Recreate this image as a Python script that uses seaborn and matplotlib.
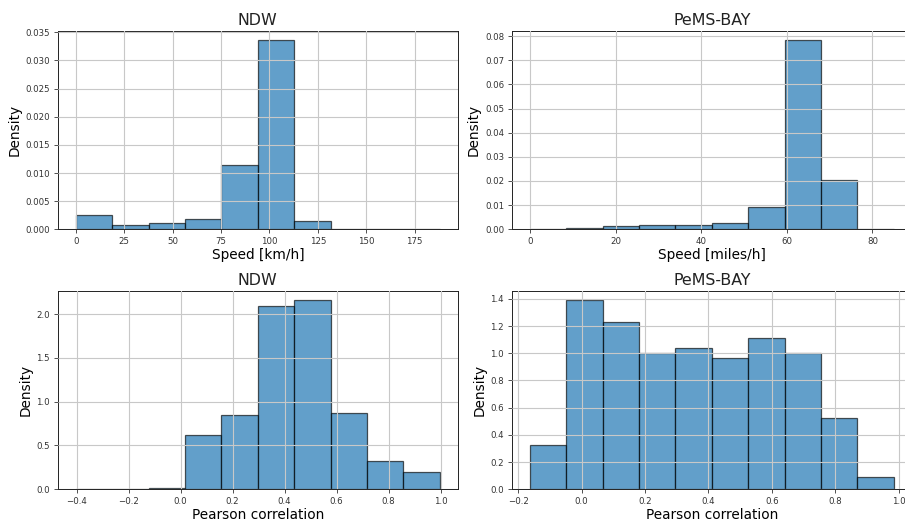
import numpy as np
import pandas as pd
import matplotlib
matplotlib.use("Agg")
import matplotlib.pyplot as plt
import seaborn as sns

# ---- data (bin edges and densities) ----
ndw_speed_edges = np.linspace(0, 188, 11)
ndw_speed_density = [0.0026, 0.0008, 0.0011, 0.0019, 0.0115, 0.0336, 0.0015, 0.0, 0.0, 0.0]

pems_speed_edges = np.linspace(0, 85, 11)
pems_speed_density = [0.0001, 0.0004, 0.0015, 0.0018, 0.0018, 0.0025, 0.0093, 0.0783, 0.0203, 0.0]

ndw_corr_edges = np.linspace(-0.403, 0.997, 11)
ndw_corr_density = [0.003, 0.003, 0.02, 0.617, 0.845, 2.087, 2.159, 0.875, 0.322, 0.200]

pems_corr_edges = np.linspace(-0.163, 0.985, 11)
pems_corr_density = [0.324, 1.390, 1.230, 1.001, 1.037, 0.964, 1.113, 1.001, 0.521, 0.090]

titles = ["NDW", "PeMS-BAY", "NDW", "PeMS-BAY"]
xlabels = ["Speed [km/h]", "Speed [miles/h]", "Pearson correlation", "Pearson correlation"]

plt.rcParams.update({
    "font.family": "DejaVu Sans",
    "xtick.labelsize": 6.2,
    "ytick.labelsize": 6.2,
    "xtick.major.size": 3,
    "ytick.major.size": 3,
    "xtick.major.width": 0.6,
    "ytick.major.width": 0.6,
    "xtick.major.pad": 2.5,
    "ytick.major.pad": 2.5,
    "axes.linewidth": 0.7,
    "axes.edgecolor": "#222222",
    "text.color": "#222222",
    "xtick.color": "#333333",
    "ytick.color": "#333333",
})

W, H = 905, 522
fig = plt.figure(figsize=(W / 100, H / 100), dpi=100)

def px_axes(left, top, right, bottom):
    return fig.add_axes([left / W, 1 - bottom / H, (right - left) / W, (bottom - top) / H])

axes = [
    px_axes(57.7, 30.7, 458.0, 229.3),
    px_axes(511.7, 30.7, 912.0, 229.3),
    px_axes(57.7, 290.7, 458.0, 489.3),
    px_axes(511.7, 290.7, 912.0, 489.3),
]

datasets = [
    (ndw_speed_edges, ndw_speed_density),
    (pems_speed_edges, pems_speed_density),
    (ndw_corr_edges, ndw_corr_density),
    (pems_corr_edges, pems_corr_density),
]

for ax, (edges, dens), title, xl in zip(axes, datasets, titles, xlabels):
    edges = [float(e) for e in edges]
    centers = [(a + b) / 2 for a, b in zip(edges[:-1], edges[1:])]
    df = pd.DataFrame({"value": centers, "density": dens})
    sns.histplot(data=df, x="value", weights="density", bins=edges, stat="count",
                 color="#1f77b4", alpha=0.7, edgecolor=(0, 0, 0, 0.65), linewidth=0.9, ax=ax)
    ax.set_title(title, fontsize=11.4, pad=4)
    ax.set_xlabel(xl, fontsize=9.8, labelpad=1.5)
    ax.set_ylabel("Density", fontsize=9.8, labelpad=3)
    ax.grid(True, color="#c8c8c8", linewidth=0.8)
    ax.set_axisbelow(False)

axes[0].yaxis.set_major_formatter(matplotlib.ticker.FormatStrFormatter("%.3f"))
axes[1].yaxis.set_major_formatter(matplotlib.ticker.FormatStrFormatter("%.2f"))

fig.savefig("out.png", dpi=100)
